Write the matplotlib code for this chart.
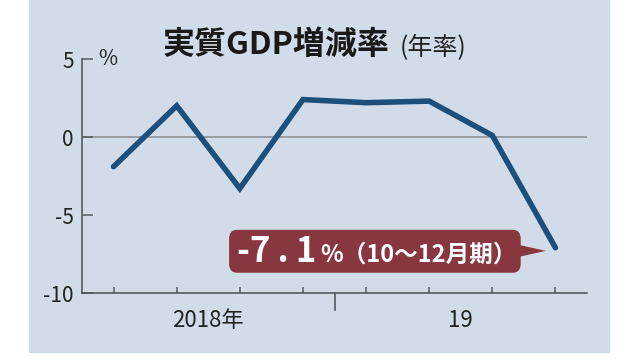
import matplotlib
matplotlib.use("Agg")
import matplotlib.pyplot as plt
from matplotlib.patches import Rectangle, FancyBboxPatch

plt.rcParams["font.family"] = ["Noto Sans CJK JP", "DejaVu Sans"]

# ---------------------------------------------------------------
# Data: quarterly real GDP growth (annualised), 2018 Q1 - 2019 Q4
# ---------------------------------------------------------------
quarters = ["2018Q1", "2018Q2", "2018Q3", "2018Q4",
            "2019Q1", "2019Q2", "2019Q3", "2019Q4"]
growth = [-1.9, 2.0, -3.3, 2.4, 2.2, 2.3, 0.1, -7.1]
year_labels = ["2018年", "19"]
year_centers = [1.5, 5.5]
y_ticks = [5, 0, -5, -10]

LINE = "#1d4f7c"
PANEL = "#d2dce8"
BOX = "#883640"
AXIS = "#555a60"

fig = plt.figure(figsize=(6.4, 3.6), dpi=100)
fig.patch.set_facecolor("white")
fig.patches.append(Rectangle((29 / 640, 8 / 360), 580 / 640, 352 / 360,
                             transform=fig.transFigure, color=PANEL, zorder=0))

ax = fig.add_axes([82 / 640, 67 / 360, 505 / 640, 234 / 360])
ax.set_facecolor("none")
ax.set_zorder(2)

x = list(range(len(quarters)))
ax.plot(x, growth, color=LINE, lw=4.0, solid_capstyle="round",
        solid_joinstyle="miter", zorder=3)
ax.axhline(0, color="#8c9196", lw=1.2, zorder=1)

ax.set_xlim(-0.5, 7.5)
ax.set_ylim(-10, 5)
for s in ["top", "right"]:
    ax.spines[s].set_visible(False)
for s in ["left", "bottom"]:
    ax.spines[s].set_color(AXIS)
    ax.spines[s].set_linewidth(1.2)

ax.set_xticks(x)
ax.set_xticklabels([])
ax.tick_params(axis="x", direction="in", length=4, width=1.1, color=AXIS)
ax.set_yticks(y_ticks)
ax.set_yticklabels([str(v) for v in y_ticks], fontsize=15, color="#222222")
ax.tick_params(axis="y", direction="in", length=8, width=1.1, color=AXIS, pad=6)

# year divider and labels
ax.plot([3.5, 3.5], [-10, -11.1], color=AXIS, lw=1.2, clip_on=False)
for lab, cx in zip(year_labels, year_centers):
    ax.text(cx, -11.0, lab, ha="center", va="top", fontsize=16, color="#222222")

ax.text(-0.25, 5.0, "%", ha="left", va="center", fontsize=15, color="#222222")

# title
t1 = fig.text(163 / 640, 315 / 360, "実質GDP増減率", fontsize=23,
              fontweight="bold", color="#1a1a1a", ha="left", va="center")
ax.annotate("(年率)", xy=(1, 0.40), xycoords=t1, xytext=(7, 0),
            textcoords="offset points", fontsize=18, color="#222222",
            ha="left", va="center", annotation_clip=False)

# callout box for the last point
box = FancyBboxPatch((1.83, -8.7), 4.62, 2.75,
                     boxstyle="round,pad=0,rounding_size=0.12",
                     fc=BOX, ec="none", zorder=4, mutation_aspect=5)
ax.add_patch(box)
ax.annotate("", xy=(x[-1] - 0.15, growth[-1] - 0.2), xytext=(6.4, -7.3),
            arrowprops=dict(arrowstyle="wedge,tail_width=0.9,shrink_factor=0.5",
                            fc=BOX, ec="none", shrinkA=0, shrinkB=0), zorder=4)
t2 = ax.text(1.95, -7.35, f"{growth[-1]:.1f}".replace(".", "\u2009.\u2009"),
             fontsize=25, fontweight="bold", color="white",
             ha="left", va="center", zorder=5)
ax.annotate("%（10〜12月期）", xy=(1, 0.42), xycoords=t2, xytext=(3, 0),
            textcoords="offset points", fontsize=17, fontweight="bold",
            color="white", ha="left", va="center", zorder=5)

fig.savefig("out.png", dpi=100, facecolor=fig.get_facecolor())
